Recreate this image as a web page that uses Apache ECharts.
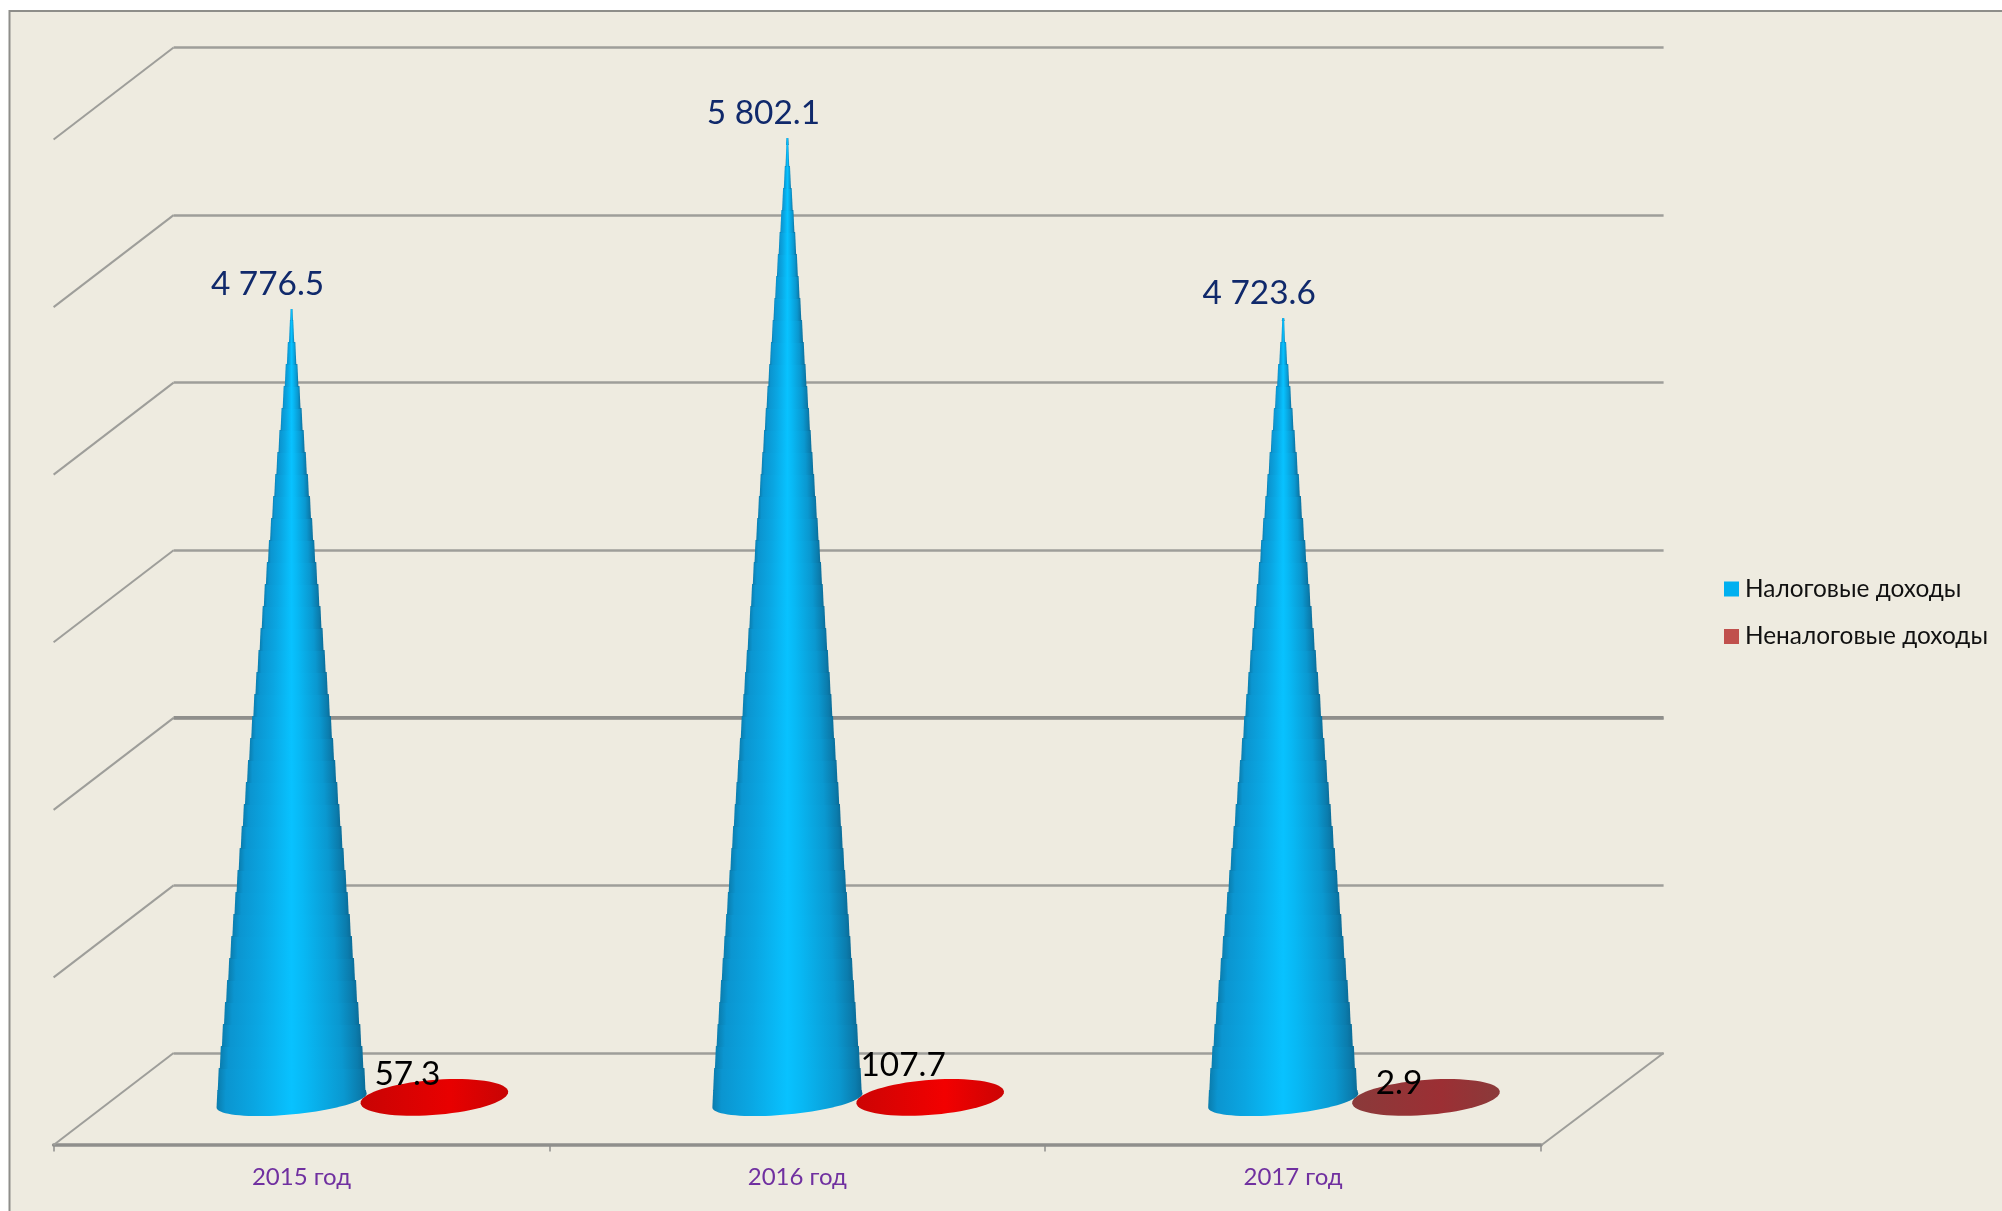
<!DOCTYPE html>
<html><head><meta charset="utf-8">
<style>html,body{margin:0;padding:0;background:#fff}#main{width:2002px;height:1211px}</style>
<script src="https://cdn.jsdelivr.net/npm/echarts@6/dist/echarts.min.js"></script>
</head><body><div id="main"></div>
<script>
const categories = ['2015 год', '2016 год', '2017 год'];
const taxIncome = [4776.5, 5802.1, 4723.6];
const nonTaxIncome = [57.3, 107.7, 2.9];
const yTicks = [0, 1000, 2000, 3000, 4000, 5000, 6000];
const seriesNames = ['Налоговые доходы', 'Неналоговые доходы'];

const FONT = 'Lato, "Open Sans", sans-serif';
const chart = echarts.init(document.getElementById('main'));
const coneStops = [
  {offset: 0, color: '#0a7cad'}, {offset: .06, color: '#0b95d0'}, {offset: .25, color: '#0aa6e2'},
  {offset: .5, color: '#08c2ff'}, {offset: .6, color: '#08b8f4'}, {offset: .85, color: '#0a98d0'},
  {offset: .96, color: '#0b7cad'}, {offset: 1, color: '#0a6c98'}
];
const coneGrad = new echarts.graphic.LinearGradient(0, 0, 1, 0, coneStops);
const redFill = [['#e80000', '#c80404'], ['#f20000', '#cc0404'], ['#9c2f34', '#8a3a3a']];

function fmt(v) {
  const s = v.toFixed(1), p = s.split('.');
  return p[0].replace(/\B(?=(\d{3})+$)/g, ' ') + '.' + p[1];
}
function arc(cx, cy, rx, ry, phi, a0, a1, n) {
  const pts = [], c = Math.cos(phi), s = Math.sin(phi);
  for (let i = 0; i <= n; i++) {
    const t = a0 + (a1 - a0) * i / n, X = rx * Math.cos(t), Y = ry * Math.sin(t);
    pts.push([cx + X * c - Y * s, cy + X * s + Y * c]);
  }
  return pts;
}
const PHI = -5.5 * Math.PI / 180;
const PHI_FLAT = -4.5 * Math.PI / 180;

function renderCone(params, api) {
  const i = api.value(0), v = api.value(1);
  const band = api.size([1, 0])[0];
  const base = api.coord([i, 0]), tip = api.coord([i, v]);
  const cx = base[0] - 0.02 * band, cy = base[1] - 5, rx = 0.152 * band, ry = 14;
  const topY = Math.round(tip[1]), h = cy - topY;
  const children = [];
  const STEP = 22, stopY = Math.round(cy - 10);
  for (let y = stopY - STEP; y > topY - STEP; y -= STEP) {
    const y0 = Math.max(y, topY), y1 = y + STEP + 1;
    const mid = (y0 + y1) / 2;
    const hw = rx * (mid - topY) / h;
    const a = Math.max(1, hw - .5), b = Math.max(1.4, hw + .5);
    children.push({type: 'polygon', shape: {points: [[cx - a, y0], [cx + a, y0], [cx + b, y1], [cx - b, y1]]},
      style: {fill: coneGrad}});
  }
  const pts = [[cx - rx * .985, stopY], [cx + rx * .985, stopY]].concat(arc(cx, cy, rx, ry, PHI, 0, Math.PI, 40));
  children.push({type: 'polygon', shape: {points: pts}, style: {fill: coneGrad}});
  children.push({type: 'text', x: cx - 24, y: topY - 25,
    style: {text: fmt(v), fill: '#10296b', font: '33.4px ' + FONT, align: 'center', verticalAlign: 'middle'}});
  return {type: 'group', children};
}
function renderFlat(params, api) {
  const i = api.value(0), v = api.value(1);
  const band = api.size([1, 0])[0];
  const base = api.coord([i, 0]), tip = api.coord([i, v]);
  const cx = base[0] + 0.268 * band, cy = base[1] - 8;
  const f = redFill[i];
  const pts = arc(cx, cy, 74, 17.5, PHI_FLAT, 0, Math.PI * 2, 70);
  return {type: 'group', children: [
    {type: 'polygon', shape: {points: pts},
      style: {fill: new echarts.graphic.LinearGradient(0, 0, 1, 0, [{offset: 0, color: f[1]}, {offset: .6, color: f[0]}, {offset: 1, color: f[1]}])}},
    {type: 'text', x: cx - 27, y: tip[1] - 22,
      style: {text: String(v), fill: '#000', font: '33.4px ' + FONT, align: 'center', verticalAlign: 'middle'}}
  ]};
}
function renderWall(params, api) {
  const t = api.value(1);
  const p = api.coord([0, t]);
  const children = [{type: 'line', shape: {x1: p[0], y1: p[1], x2: p[0] - 120, y2: p[1] + 92},
    style: {stroke: '#9e9e9a', lineWidth: 2}}];
  if (t === 0) {
    const q = api.coord([1, 0]);
    children.push({type: 'line', shape: {x1: q[0], y1: q[1], x2: q[0] - 122, y2: q[1] + 92},
      style: {stroke: '#9e9e9a', lineWidth: 2}});
  }
  if (t === 2000) {
    const q = api.coord([1, t]);
    children.push({type: 'line', shape: {x1: p[0], y1: p[1], x2: q[0], y2: q[1]},
      style: {stroke: '#8f8f8c', lineWidth: 3.5}});
  }
  return {type: 'group', children};
}

chart.setOption({
  animation: false,
  backgroundColor: '#fff',
  graphic: [{type: 'rect', z: -10, shape: {x: 9.5, y: 11, width: 2100, height: 1300},
    style: {fill: '#eeebe0', stroke: '#8e8e8a', lineWidth: 2}}],
  legend: {
    left: 1719, top: 572, orient: 'vertical', itemWidth: 15, itemHeight: 15, itemGap: 23.5,
    icon: 'rect', selectedMode: false,
    textStyle: {fontFamily: FONT, fontSize: 24.4, color: '#111', padding: [0, 0, 0, 1]},
    data: seriesNames
  },
  grid: [
    {left: 53.6, width: 1487.4, top: 105.4, height: 1000, containLabel: false},
    {left: 173.6, width: 1490, top: 47.5, height: 1005.5}
  ],
  xAxis: [
    {gridIndex: 0, type: 'category', data: categories, offset: 39, position: 'bottom',
     axisLine: {onZero: false, lineStyle: {color: '#8f8f8c', width: 3.5}},
     axisTick: {show: true, alignWithLabel: false, length: 7, lineStyle: {color: '#8f8f8c', width: 1.5}},
     axisLabel: {color: '#7030a0', fontSize: 24, fontFamily: FONT, margin: 21}},
    {gridIndex: 1, type: 'value', min: 0, max: 1, show: false}
  ],
  yAxis: [
    {gridIndex: 0, type: 'value', min: 0, max: 6000, interval: 1000, show: false},
    {gridIndex: 1, type: 'value', min: 0, max: 6000, interval: 1000,
     axisLine: {show: false}, axisTick: {show: false}, axisLabel: {show: false},
     splitLine: {show: true, lineStyle: {color: '#9e9e9a', width: 2.5}}}
  ],
  series: [
    {name: 'wall', type: 'custom', xAxisIndex: 1, yAxisIndex: 1, z: 1, silent: true,
     renderItem: renderWall, data: yTicks.map(t => [0, t])},
    {name: seriesNames[0], type: 'custom', xAxisIndex: 0, yAxisIndex: 0, z: 4, silent: true,
     itemStyle: {color: '#00b0f0'}, renderItem: renderCone,
     data: taxIncome.map((v, i) => [i, v])},
    {name: seriesNames[1], type: 'custom', xAxisIndex: 0, yAxisIndex: 0, z: 3, silent: true,
     itemStyle: {color: '#c0504d'}, renderItem: renderFlat,
     data: nonTaxIncome.map((v, i) => [i, v])}
  ]
});
</script></body></html>
